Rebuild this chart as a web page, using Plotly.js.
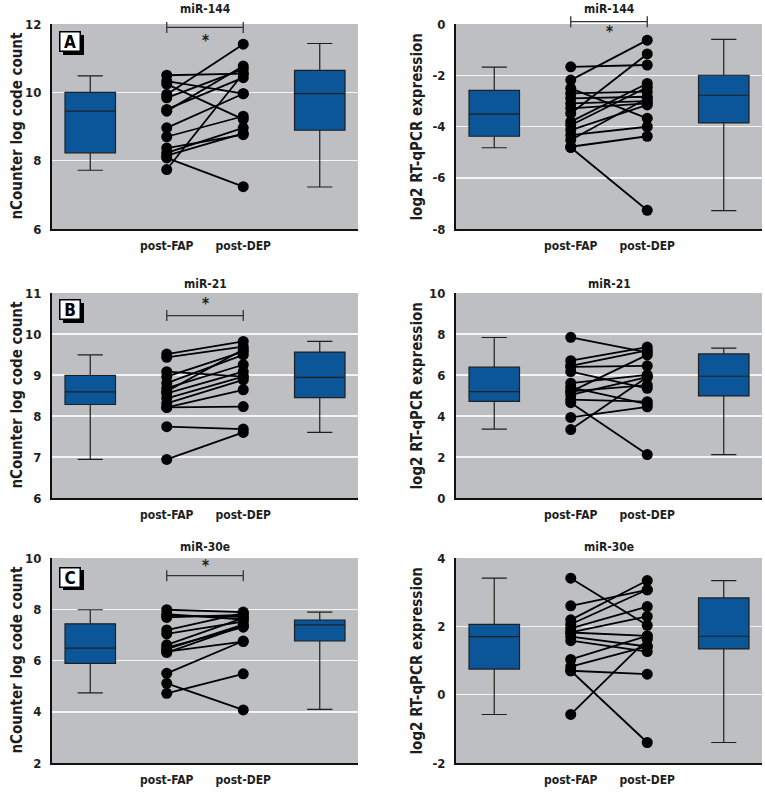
<!DOCTYPE html>
<html>
<head>
<meta charset="utf-8">
<script src="https://cdn.plot.ly/plotly-3.0.1.min.js"></script>
<style>html,body{margin:0;padding:0;background:#fff;}#chart{width:765px;height:800px;}</style>
</head>
<body>
<div id="chart"></div>
<script>
// ---- categories / labels ----
const categories = ['post-FAP', 'post-DEP'];
const panelTitles = ['miR-144', 'miR-144', 'miR-21', 'miR-21', 'miR-30e', 'miR-30e'];
const panelLetters = ['A', 'B', 'C'];
const yTitleNC = 'nCounter log code count';
const yTitleRT = 'log2 RT-qPCR expression';

// ---- paired values (post-FAP -> post-DEP) ----
const a_nc_fap = [10.50, 10.33, 10.24, 9.94, 9.84, 9.50, 9.45, 8.96, 8.70, 8.37, 8.23, 8.08, 7.74, 8.15];
const a_nc_dep = [10.55, 9.96, 9.21, 11.41, 10.68, 10.43, 10.77, 9.96, 9.30, 8.76, 8.96, 7.24, 10.55, 8.80];
const a_rt_fap = [-1.67, -2.19, -2.51, -2.71, -2.90, -3.10, -3.49, -3.81, -3.95, -4.14, -4.34, -4.53, -4.79, -4.82, -3.29];
const a_rt_dep = [-1.60, -0.63, -3.68, -2.64, -2.84, -3.01, -1.17, -2.32, -2.47, -3.16, -4.01, -2.90, -4.38, -7.27, -3.10];
const b_nc_fap = [9.51, 9.43, 9.08, 8.96, 8.80, 8.68, 8.60, 8.55, 8.43, 8.31, 8.21, 8.21, 7.74, 6.94];
const b_nc_dep = [9.82, 9.69, 8.96, 9.57, 9.49, 9.25, 9.62, 9.08, 8.96, 8.88, 8.64, 8.23, 7.68, 7.60];
const b_rt_fap = [7.84, 6.70, 6.45, 6.40, 6.17, 5.60, 5.19, 5.20, 5.03, 4.80, 4.65, 3.93, 3.34, 5.40];
const b_rt_dep = [7.10, 7.36, 7.20, 6.45, 5.35, 6.01, 6.98, 5.51, 5.90, 4.70, 2.12, 4.45, 5.90, 4.58];
const c_nc_fap = [7.98, 7.81, 7.68, 7.19, 7.04, 6.61, 6.44, 6.31, 6.35, 6.50, 5.50, 5.11, 4.72, 7.75];
const c_nc_dep = [7.89, 7.60, 7.78, 7.85, 7.52, 7.65, 7.40, 7.35, 6.74, 7.30, 6.76, 4.07, 5.48, 7.70];
const c_rt_fap = [3.41, 2.60, 2.19, 2.06, 1.94, 1.82, 1.82, 1.70, 1.03, 0.82, 0.70, 0.70, -0.58, 1.58];
const c_rt_dep = [2.03, 3.07, 3.34, 3.07, 2.58, 2.29, 1.72, 1.41, 1.72, 1.41, 0.60, -1.40, 1.62, 1.26];

// ---- box summaries: [lowerfence, q1, median, q3, upperfence] ----
const a_nc_boxFAP = [7.72, 8.23, 9.45, 10.00, 10.48];
const a_nc_boxDEP = [7.23, 8.89, 9.96, 10.64, 11.43];
const a_rt_boxFAP = [-4.83, -4.38, -3.52, -2.59, -1.68];
const a_rt_boxDEP = [-7.28, -3.86, -2.78, -2.00, -0.60];
const b_nc_boxFAP = [6.94, 8.28, 8.59, 8.99, 9.49];
const b_nc_boxDEP = [7.60, 8.45, 8.94, 9.56, 9.82];
const b_rt_boxFAP = [3.36, 4.71, 5.19, 6.38, 7.83];
const b_rt_boxDEP = [2.12, 4.98, 5.94, 7.03, 7.31];
const c_nc_boxFAP = [4.74, 5.89, 6.48, 7.43, 7.98];
const c_nc_boxDEP = [4.09, 6.76, 7.39, 7.58, 7.89];
const c_rt_boxFAP = [-0.58, 0.75, 1.70, 2.06, 3.41];
const c_rt_boxDEP = [-1.40, 1.34, 1.71, 2.83, 3.34];

// ---- y tick values per panel ----
const a_nc_ticks = [6, 8, 10, 12];
const a_rt_ticks = [-8, -6, -4, -2, 0];
const b_nc_ticks = [6, 7, 8, 9, 10, 11];
const b_rt_ticks = [0, 2, 4, 6, 8, 10];
const c_nc_ticks = [2, 4, 6, 8, 10];
const c_rt_ticks = [-2, 0, 2, 4];

// significance brackets (y of bracket, y of star)
const a_nc_sig = [11.9, 11.5];
const a_rt_sig = [0.09, -0.33];
const b_nc_sig = [10.45, 10.72];
const c_nc_sig = [9.31, 9.67];

// ---- layout geometry ----
const W = 765, H = 800;
const xDomL = [52 / W, 358 / W], xDomR = [456 / W, 762 / W];
const rowDom = [[1 - 229 / H, 1 - 24 / H], [1 - 498 / H, 1 - 293 / H], [1 - 763 / H, 1 - 558 / H]];
const titleY = [9, 284, 547];
const letterY = [42, 310, 577];
const XR = [0.5, 4.5];

const panels = [
  {fap: a_nc_fap, dep: a_nc_dep, bf: a_nc_boxFAP, bd: a_nc_boxDEP, ticks: a_nc_ticks, sig: a_nc_sig, row: 0, col: 0},
  {fap: a_rt_fap, dep: a_rt_dep, bf: a_rt_boxFAP, bd: a_rt_boxDEP, ticks: a_rt_ticks, sig: a_rt_sig, row: 0, col: 1},
  {fap: b_nc_fap, dep: b_nc_dep, bf: b_nc_boxFAP, bd: b_nc_boxDEP, ticks: b_nc_ticks, sig: b_nc_sig, row: 1, col: 0},
  {fap: b_rt_fap, dep: b_rt_dep, bf: b_rt_boxFAP, bd: b_rt_boxDEP, ticks: b_rt_ticks, sig: null, row: 1, col: 1},
  {fap: c_nc_fap, dep: c_nc_dep, bf: c_nc_boxFAP, bd: c_nc_boxDEP, ticks: c_nc_ticks, sig: c_nc_sig, row: 2, col: 0},
  {fap: c_rt_fap, dep: c_rt_dep, bf: c_rt_boxFAP, bd: c_rt_boxDEP, ticks: c_rt_ticks, sig: null, row: 2, col: 1}
];

const FONT = 'Liberation Sans Narrow, Arial Narrow, DejaVu Sans Condensed, sans-serif';
const TXT = '#1e1e1e';
const traces = [];
const layout = {
  width: W, height: H,
  margin: {l: 0, r: 0, t: 0, b: 0},
  paper_bgcolor: '#ffffff',
  plot_bgcolor: '#BDBFC2',
  showlegend: false,
  font: {family: FONT, color: TXT},
  annotations: [],
  shapes: []
};

panels.forEach((p, i) => {
  const n = i + 1;
  const xa = 'x' + (n === 1 ? '' : n), ya = 'y' + (n === 1 ? '' : n);
  const xDom = p.col === 0 ? xDomL : xDomR;
  const yDom = rowDom[p.row];
  const yr = [p.ticks[0], p.ticks[p.ticks.length - 1]];

  traces.push({
    type: 'box', xaxis: xa, yaxis: ya,
    x: [1, 4],
    lowerfence: [p.bf[0], p.bd[0]],
    q1: [p.bf[1], p.bd[1]],
    median: [p.bf[2], p.bd[2]],
    q3: [p.bf[3], p.bd[3]],
    upperfence: [p.bf[4], p.bd[4]],
    width: 0.66, whiskerwidth: 0.5,
    fillcolor: '#0A5698',
    line: {color: '#1f1f1f', width: 1.2},
    boxpoints: false, hoverinfo: 'skip'
  });

  const px = [], py = [];
  p.fap.forEach((v, k) => { px.push(2, 3, null); py.push(v, p.dep[k], null); });
  traces.push({
    type: 'scatter', mode: 'lines+markers', xaxis: xa, yaxis: ya,
    x: px, y: py, connectgaps: false,
    line: {color: '#000', width: 1.8},
    marker: {color: '#000', size: 11},
    hoverinfo: 'skip', cliponaxis: false
  });

  layout['xaxis' + (n === 1 ? '' : n)] = {
    domain: xDom, anchor: ya, range: XR, fixedrange: true,
    showgrid: false, zeroline: false,
    showline: true, linecolor: '#111', linewidth: 2,
    tickmode: 'array', tickvals: [2, 3], ticktext: categories,
    ticks: 'outside', ticklen: 5, tickcolor: 'rgba(0,0,0,0)',
    tickfont: {family: FONT, size: 12, color: TXT, weight: 'bold'}
  };
  layout['yaxis' + (n === 1 ? '' : n)] = {
    domain: yDom, anchor: xa, range: yr, fixedrange: true,
    showgrid: true, gridcolor: '#F4F4F4', gridwidth: 1.5, zeroline: false,
    showline: true, linecolor: '#111', linewidth: 2,
    tickmode: 'array', tickvals: p.ticks, ticktext: p.ticks.map(v => String(v)),
    ticks: 'outside', ticklen: 6, tickcolor: 'rgba(0,0,0,0)',
    tickfont: {family: FONT, size: 13, color: TXT, weight: 'bold'}
  };

  layout.annotations.push({
    xref: xa, yref: 'paper', x: 2.5, y: 1 - titleY[p.row] / H,
    text: '<b>' + panelTitles[i] + '</b>', showarrow: false,
    font: {family: FONT, size: 12, color: TXT}, xanchor: 'center', yanchor: 'middle'
  });

  const cx = p.col === 0 ? 16 : 416;
  layout.annotations.push({
    xref: 'paper', yref: 'paper', x: cx / W, y: (yDom[0] + yDom[1]) / 2,
    text: '<b>' + (p.col === 0 ? yTitleNC : yTitleRT) + '</b>', textangle: -90, showarrow: false,
    font: {family: FONT, size: 15, color: TXT}, xanchor: 'center', yanchor: 'middle'
  });

  if (p.sig) {
    const toPX = x => xDom[0] + (x - XR[0]) / (XR[1] - XR[0]) * (xDom[1] - xDom[0]);
    const toPY = y => yDom[0] + (y - yr[0]) / (yr[1] - yr[0]) * (yDom[1] - yDom[0]);
    const by = toPY(p.sig[0]), h = 5.5 / H;
    const x1 = toPX(2), x2 = toPX(3);
    const ln = {color: '#333', width: 1.3};
    layout.shapes.push({type: 'line', xref: 'paper', yref: 'paper', x0: x1, x1: x2, y0: by, y1: by, line: ln});
    layout.shapes.push({type: 'line', xref: 'paper', yref: 'paper', x0: x1, x1: x1, y0: by - h, y1: by + h, line: ln});
    layout.shapes.push({type: 'line', xref: 'paper', yref: 'paper', x0: x2, x1: x2, y0: by - h, y1: by + h, line: ln});
    layout.annotations.push({
      xref: xa, yref: ya, x: 2.5, y: p.sig[1], text: '<b>*</b>', showarrow: false,
      font: {family: FONT, size: 15, color: TXT}, xanchor: 'center', yanchor: 'middle'
    });
  }

  if (p.col === 0) {
    const lx = 70 / W, ly = 1 - letterY[p.row] / H;
    layout.annotations.push({
      xref: 'paper', yref: 'paper', x: lx + 3 / W, y: ly - 3 / H, text: ' ', showarrow: false,
      width: 19, height: 18, bgcolor: '#000', borderwidth: 0, xanchor: 'center', yanchor: 'middle'
    });
    layout.annotations.push({
      xref: 'paper', yref: 'paper', x: lx, y: ly, text: '<b>' + panelLetters[p.row] + '</b>', showarrow: false,
      width: 19, height: 18, bgcolor: '#fff', bordercolor: '#000', borderwidth: 1.5, borderpad: 0,
      font: {family: FONT, size: 17, color: '#000'}, xanchor: 'center', yanchor: 'middle'
    });
  }
});

Plotly.newPlot('chart', traces, layout, {staticPlot: true, displayModeBar: false});
</script>
</body>
</html>
